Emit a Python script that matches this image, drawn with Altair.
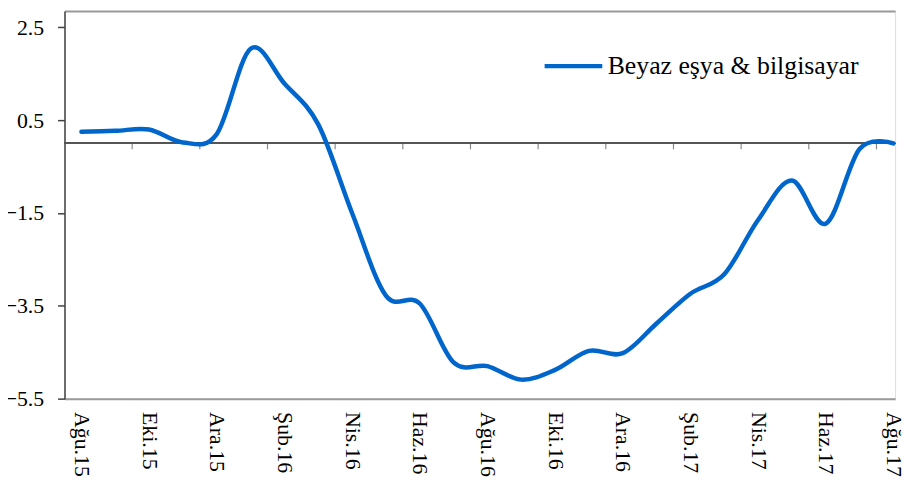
import json
import altair as alt
import pandas as pd

months = ["Ağu.15", "Eyl.15", "Eki.15", "Kas.15", "Ara.15", "Oca.16", "Şub.16",
          "Mar.16", "Nis.16", "May.16", "Haz.16", "Tem.16", "Ağu.16", "Eyl.16",
          "Eki.16", "Kas.16", "Ara.16", "Oca.17", "Şub.17", "Mar.17", "Nis.17",
          "May.17", "Haz.17", "Tem.17", "Ağu.17"]
values = [0.25, 0.27, 0.30, 0.02, 0.20, 2.04, 1.29, 0.41, -1.50, -3.28, -3.45,
          -4.72, -4.80, -5.09, -4.88, -4.47, -4.52, -3.88, -3.24, -2.82, -1.65,
          -0.80, -1.73, -0.12, 0.00]
series_name = "Beyaz eşya & bilgisayar"
y_ticks = [-5.5, -3.5, -1.5, 0.5, 2.5]
label_idx = list(range(0, 25, 2))
tick_pos = [i + 0.5 for i in range(1, 24, 2)]

FONT = "Liberation Serif"
BLUE = "#0066CC"

df = pd.DataFrame({"idx": list(range(len(months))), "month": months,
                   "value": values, "series": series_name})
ticks_df = pd.DataFrame({"pos": tick_pos})

x_scale = alt.Scale(domain=[-0.5, 24.05], nice=False, zero=False)
y_scale = alt.Scale(domain=[-5.5, 2.85], nice=False, zero=False)

label_expr = json.dumps(months, ensure_ascii=False) + "[datum.value]"

line = alt.Chart(df).mark_line(
    interpolate="cardinal", strokeWidth=4.5, strokeCap="round"
).encode(
    x=alt.X("idx:Q", scale=x_scale,
            axis=alt.Axis(orient="bottom", values=label_idx, labelExpr=label_expr,
                          labelAngle=90, labelFont=FONT, labelFontSize=22,
                          labelColor="#000000", labelPadding=13, ticks=False,
                          domainColor="#9a9a9a", domainWidth=2, grid=False,
                          title=None, labelOverlap=False, labelFlush=False)),
    y=alt.Y("value:Q", scale=y_scale,
            axis=alt.Axis(values=y_ticks, format=".1f", labelFont=FONT,
                          labelFontSize=22, labelColor="#000000", labelPadding=14,
                          tickSize=7, tickWidth=1.5, tickColor="#404040",
                          domainColor="#404040", domainWidth=1.5, grid=False,
                          title=None)),
    color=alt.Color("series:N",
                    scale=alt.Scale(domain=[series_name], range=[BLUE]),
                    legend=alt.Legend(orient="none", legendX=482, legendY=24,
                                      title=None, symbolType="stroke",
                                      symbolSize=3385, symbolStrokeWidth=4.5,
                                      labelFont=FONT, labelFontSize=26,
                                      labelColor="#000000", labelOffset=3,
                                      labelLimit=500, padding=0)),
)

zero = alt.Chart(df).mark_rule(color="#555555", strokeWidth=1.2).encode(
    y=alt.datum(0, scale=y_scale)
)

tk = alt.Chart(ticks_df).mark_tick(
    orient="vertical", size=6, thickness=1.2, yOffset=3, color="#555555"
).encode(
    x=alt.X("pos:Q", scale=x_scale,
            axis=alt.Axis(orient="top", ticks=False, labels=False,
                          domainColor="#9a9a9a", domainWidth=2, grid=False,
                          title=None)),
    y=alt.datum(0, scale=y_scale),
)

chart = alt.layer(zero, tk, line).resolve_axis(x="independent").properties(
    width=838, height=391,
    autosize=alt.AutoSizeParams(type="none"),
    padding={"left": 57, "top": 1, "right": 9, "bottom": 85},
).configure_view(strokeWidth=0, strokeOpacity=0).configure(font=FONT)

chart.save("out.html", embed_options={"renderer": "svg", "actions": False})
